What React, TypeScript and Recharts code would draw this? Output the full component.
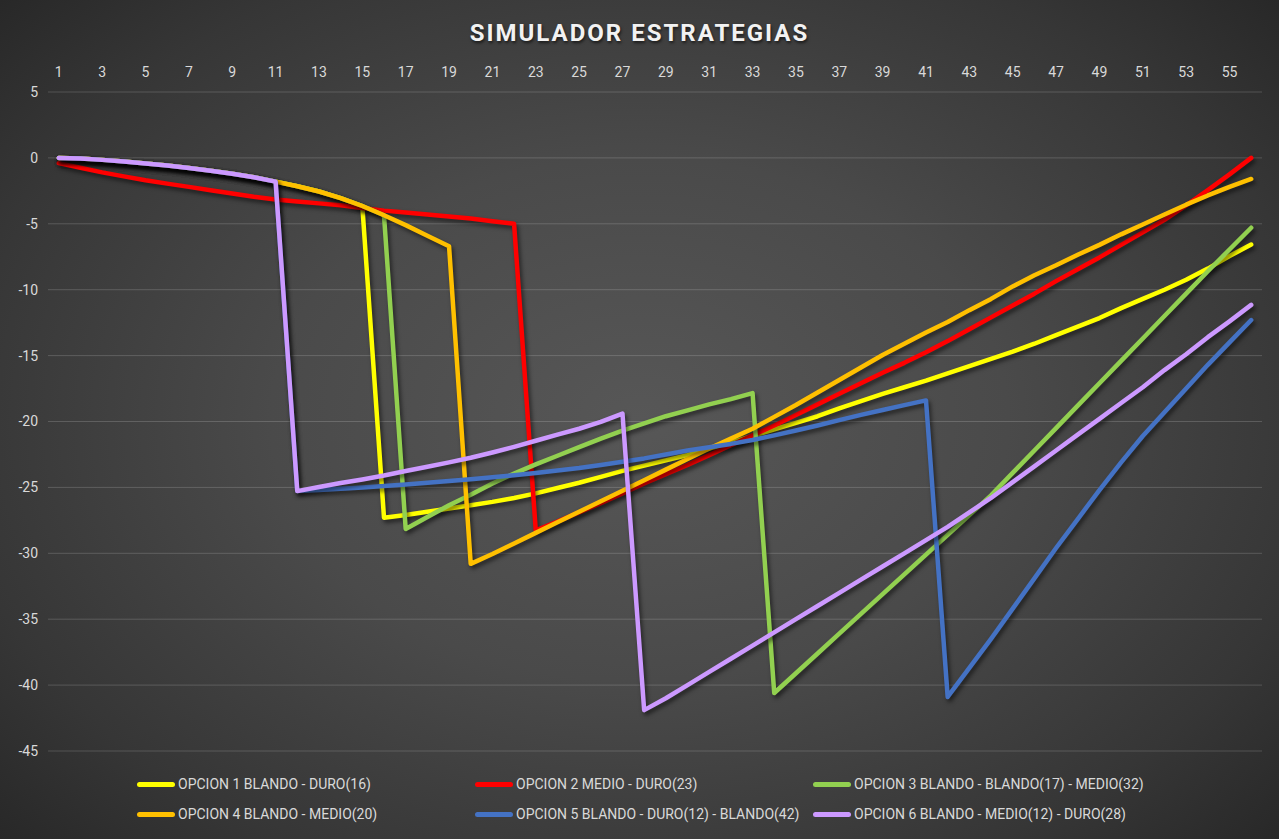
import { CartesianGrid, Line, LineChart, XAxis, YAxis } from "recharts";

const periods = [
  1, 2, 3, 4, 5, 6, 7, 8, 9, 10, 11, 12, 13, 14, 15, 16, 17, 18, 19, 20,
  21, 22, 23, 24, 25, 26, 27, 28, 29, 30, 31, 32, 33, 34, 35, 36, 37, 38, 39, 40,
  41, 42, 43, 44, 45, 46, 47, 48, 49, 50, 51, 52, 53, 54, 55, 56,
];

const yTicks = [5, 0, -5, -10, -15, -20, -25, -30, -35, -40, -45];

// OPCION 1 BLANDO - DURO(16)
const opcion1 = [
  0, -0.05, -0.15, -0.27, -0.42, -0.58, -0.77, -0.97, -1.2, -1.47,
  -1.8, -2.15, -2.55, -3.05, -3.65, -27.3, -27.1, -26.85, -26.6, -26.35,
  -26.1, -25.8, -25.45, -25.05, -24.65, -24.2, -23.75, -23.35, -22.95, -22.55,
  -22.05, -21.6, -21.1, -20.6, -20.1, -19.6, -19.0, -18.45, -17.9, -17.4,
  -16.9, -16.35, -15.8, -15.25, -14.7, -14.1, -13.45, -12.8, -12.15, -11.4,
  -10.7, -10.0, -9.25, -8.4, -7.45, -6.57,
];

// OPCION 2 MEDIO - DURO(23)
const opcion2 = [
  -0.4, -0.75, -1.1, -1.4, -1.7, -1.95, -2.2, -2.45, -2.7, -2.95,
  -3.15, -3.3, -3.45, -3.6, -3.8, -4.0, -4.15, -4.3, -4.45, -4.6,
  -4.8, -5.0, -28.25, -27.6, -26.9, -26.2, -25.45, -24.7, -24.0, -23.3,
  -22.55, -21.8, -21.05, -20.3, -19.5, -18.7, -17.9, -17.1, -16.3, -15.55,
  -14.75, -13.9, -13.0, -12.1, -11.2, -10.3, -9.35, -8.45, -7.55, -6.6,
  -5.65, -4.7, -3.6, -2.45, -1.25, 0,
];

// OPCION 3 BLANDO - BLANDO(17) - MEDIO(32)
const opcion3 = [
  0, -0.05, -0.15, -0.27, -0.42, -0.58, -0.77, -0.97, -1.2, -1.47,
  -1.8, -2.15, -2.55, -3.05, -3.65, -4.35, -28.15, -27.25, -26.35, -25.55,
  -24.7, -23.95, -23.25, -22.6, -21.95, -21.3, -20.7, -20.15, -19.6, -19.15,
  -18.7, -18.3, -17.85, -40.6, -39.1, -37.6, -36.1, -34.6, -33.1, -31.6,
  -30.1, -28.6, -27.1, -25.6, -23.9, -22.2, -20.5, -18.8, -17.1, -15.4,
  -13.7, -12.0, -10.3, -8.6, -6.95, -5.3,
];

// OPCION 4 BLANDO - MEDIO(20)
const opcion4 = [
  0, -0.05, -0.15, -0.27, -0.42, -0.58, -0.77, -0.97, -1.2, -1.47,
  -1.8, -2.15, -2.55, -3.05, -3.65, -4.35, -5.1, -5.9, -6.7, -30.8,
  -30.05, -29.25, -28.45, -27.65, -26.85, -26.05, -25.25, -24.45, -23.65, -22.85,
  -22.05, -21.3, -20.55, -19.65, -18.75, -17.8, -16.85, -15.9, -14.95, -14.1,
  -13.25, -12.45, -11.55, -10.7, -9.75, -8.9, -8.15, -7.35, -6.6, -5.8,
  -5.05, -4.3, -3.55, -2.85, -2.2, -1.6,
];

// OPCION 5 BLANDO - DURO(12) - BLANDO(42)
const opcion5 = [
  0, -0.05, -0.15, -0.27, -0.42, -0.58, -0.77, -0.97, -1.2, -1.47,
  -1.8, -25.28, -25.2, -25.1, -25.0, -24.9, -24.78, -24.65, -24.52, -24.38,
  -24.23, -24.07, -23.9, -23.72, -23.53, -23.3, -23.05, -22.8, -22.5, -22.2,
  -21.95, -21.7, -21.4, -21.05, -20.68, -20.3, -19.9, -19.5, -19.13, -18.76,
  -18.4, -40.9, -38.7, -36.5, -34.2, -31.9, -29.6, -27.4, -25.2, -23.1,
  -21.1, -19.3, -17.5, -15.7, -14.0, -12.3,
];

// OPCION 6 BLANDO - MEDIO(12) - DURO(28)
const opcion6 = [
  0, -0.05, -0.15, -0.27, -0.42, -0.58, -0.77, -0.97, -1.2, -1.47,
  -1.8, -25.28, -24.97, -24.67, -24.4, -24.1, -23.76, -23.43, -23.1, -22.75,
  -22.35, -21.92, -21.46, -21.0, -20.55, -20.03, -19.4, -41.9, -41.0, -40.0,
  -39.0, -38.0, -37.0, -36.0, -35.0, -34.0, -33.0, -32.0, -31.0, -30.0,
  -29.0, -28.0, -26.9, -25.8, -24.6, -23.4, -22.2, -21.0, -19.8, -18.6,
  -17.4, -16.1, -14.9, -13.6, -12.4, -11.15,
];

const series = [
  { key: "o1", name: "OPCION 1 BLANDO - DURO(16)", color: "#FFFF00", values: opcion1 },
  { key: "o2", name: "OPCION 2 MEDIO - DURO(23)", color: "#FF0000", values: opcion2 },
  { key: "o3", name: "OPCION 3 BLANDO - BLANDO(17) - MEDIO(32)", color: "#92D050", values: opcion3 },
  { key: "o4", name: "OPCION 4 BLANDO - MEDIO(20)", color: "#FFC000", values: opcion4 },
  { key: "o5", name: "OPCION 5 BLANDO - DURO(12) - BLANDO(42)", color: "#4472C4", values: opcion5 },
  { key: "o6", name: "OPCION 6 BLANDO - MEDIO(12) - DURO(28)", color: "#CC99FF", values: opcion6 },
];

const data = periods.map((period, i) => {
  const row: Record<string, number> = { period };
  series.forEach((s) => {
    row[s.key] = s.values[i];
  });
  return row;
});

const font = "Roboto, 'Open Sans', sans-serif";
const tickStyle = { fill: "#D9D9D9", fontSize: 14, fontFamily: font };

export default function App() {
  return (
    <div
      style={{
        position: "relative",
        width: 1279,
        height: 839,
        overflow: "hidden",
        background:
          "radial-gradient(ellipse 72% 78% at 50% 50%, #575757 0%, #4a4a4a 40%, #363636 75%, #242424 100%)",
        fontFamily: font,
      }}
    >
      <style>{`
        body { margin: 0; }
        .recharts-line-curve { filter: drop-shadow(2px 3px 2px rgba(0,0,0,0.55)); }
      `}</style>

      <div
        style={{
          position: "absolute",
          top: 19,
          left: 0,
          width: 1279,
          textAlign: "center",
          color: "#F2F2F2",
          fontSize: 24,
          fontWeight: 700,
          letterSpacing: 2,
          lineHeight: "28px",
          textShadow: "1px 2px 3px rgba(0,0,0,0.6)",
        }}
      >
        SIMULADOR ESTRATEGIAS
      </div>

      <LineChart
        width={1279}
        height={839}
        data={data}
        margin={{ top: 62, right: 17, bottom: 88, left: 0 }}
        style={{ position: "absolute", top: 0, left: 0 }}
      >
        <CartesianGrid vertical={false} stroke="rgba(255,255,255,0.17)" />
        <XAxis
          dataKey="period"
          orientation="top"
          height={30}
          interval={1}
          axisLine={false}
          tickLine={false}
          tickSize={6}
          tickMargin={9}
          padding={{ left: 10.8, right: 10.8 }}
          tick={tickStyle}
        />
        <YAxis
          width={48}
          domain={[-45, 5]}
          ticks={yTicks}
          axisLine={false}
          tickLine={false}
          tickSize={6}
          tickMargin={4}
          tick={tickStyle}
        />
        {series.map((s) => (
          <Line
            key={s.key}
            dataKey={s.key}
            name={s.name}
            type="linear"
            stroke={s.color}
            strokeWidth={4.5}
            strokeLinejoin="round"
            strokeLinecap="round"
            dot={false}
            activeDot={false}
            isAnimationActive={false}
          />
        ))}
      </LineChart>

      <div
        style={{
          position: "absolute",
          left: 137,
          top: 772,
          display: "grid",
          gridTemplateColumns: "338px 338px 338px",
          rowGap: 6,
        }}
      >
        {series.map((s) => (
          <div key={s.key} style={{ display: "flex", alignItems: "center", height: 24 }}>
            <span
              style={{
                display: "inline-block",
                width: 38,
                height: 5,
                borderRadius: 3,
                background: s.color,
                marginRight: 3,
              }}
            />
            <span style={{ color: "#D9D9D9", fontSize: 14, whiteSpace: "nowrap" }}>{s.name}</span>
          </div>
        ))}
      </div>
    </div>
  );
}
